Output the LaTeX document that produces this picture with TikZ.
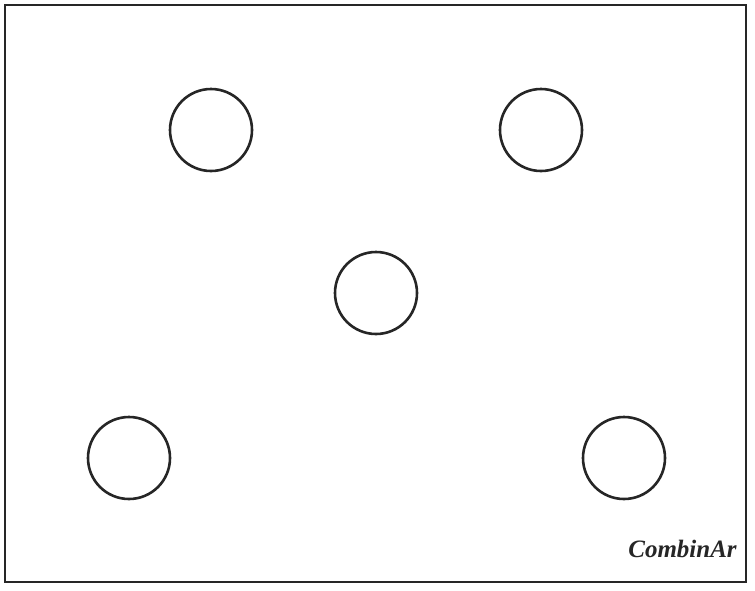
\documentclass[tikz,border=0pt]{standalone}
\usepackage{fontspec}
\setmainfont{Liberation Serif}

\begin{document}
\begin{tikzpicture}
  [x=1pt,y=-1pt,line width=2.6pt,color=black!85,
   hole/.style={circle,draw,inner sep=0pt,minimum size=82pt}]
  \useasboundingbox (0,0) rectangle (755,590);
  \draw (5,5) rectangle (746,582);
  \node[hole] (tl) at (211,130) {};
  \node[hole] (tr) at (541,130) {};
  \node[hole] (m) at (376,293) {};
  \node[hole] (bl) at (129,458) {};
  \node[hole] (br) at (624,458) {};
  \node[anchor=base east,inner sep=0pt,font=\fontsize{25}{30}\selectfont\bfseries\itshape] (name) at (738,557) {CombinAr};

\end{tikzpicture}
\end{document}
